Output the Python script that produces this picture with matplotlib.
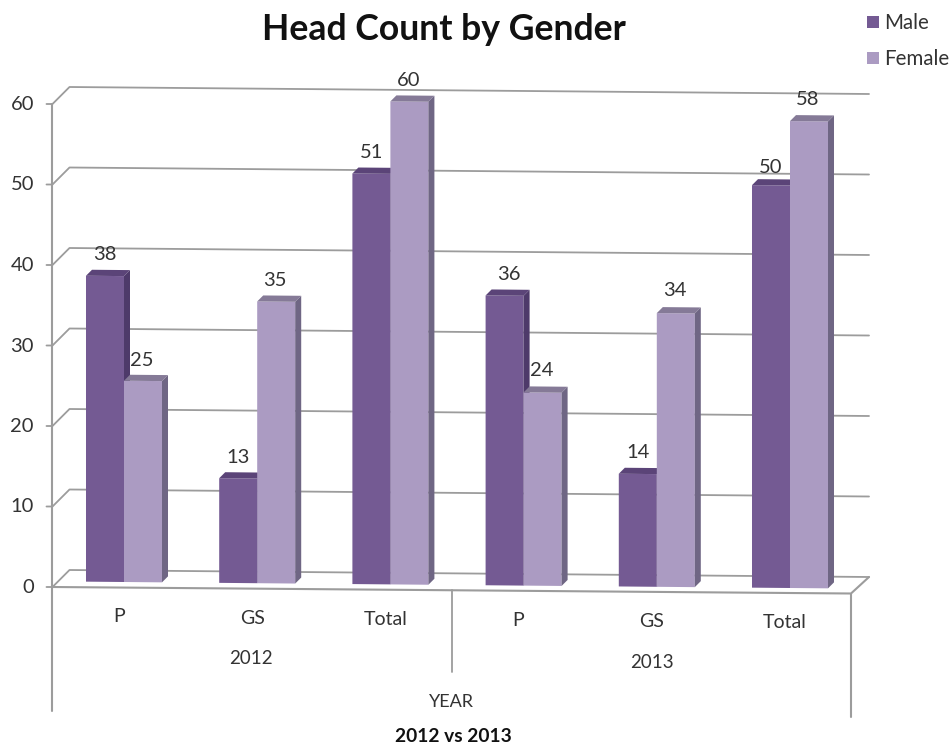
import matplotlib
matplotlib.use("Agg")
import matplotlib.pyplot as plt
from matplotlib.transforms import Affine2D

plt.rcParams['font.family'] = ['Lato', 'DejaVu Sans']

# values
groups = ["P", "GS", "Total", "P", "GS", "Total"]
years = ["2012", "2013"]
male = [38, 13, 51, 36, 14, 50]
female = [25, 35, 60, 24, 34, 58]
y_ticks = [0, 10, 20, 30, 40, 50, 60]

MALE = ("#745a93", "#4e3a6a", "#5b4478")
FEMALE = ("#ab9bc2", "#6f6684", "#857a97")
GRID = "#9c9c9c"
TEXT = "#333333"

fig = plt.figure(figsize=(9.49, 7.45), dpi=100)
ax = fig.add_axes([0, 0, 1, 1])
ax.set_xlim(0, 949)
ax.set_ylim(745, 0)
ax.axis("off")
ax.autoscale(False)

# slightly tilted view: (slot, value) -> picture pixels
PX_PER_UNIT = 8.05
bar_tf = Affine2D.from_values(133.2, 1.2, 0, -PX_PER_UNIT, 124, 582)
BAR_W = 0.2853
DEPTH = (6, -6)


def wall(x_frac, v, back):
    # point on front (back=False) or rear (back=True) edge of the floor
    if back:
        x0, x1, y0, y1 = 69.5, 869, 570, 577
    else:
        x0, x1, y0, y1 = 52.5, 851, 587, 593.5
    return x0 + (x1 - x0) * x_frac, y0 + (y1 - y0) * x_frac - PX_PER_UNIT * v


def line(pts, lw=1.3, z=1):
    ax.plot([p[0] for p in pts], [p[1] for p in pts], color=GRID, lw=lw, zorder=z,
            solid_capstyle="round", solid_joinstyle="round")


# gridlines, with the short return to the axis and tick
for v in y_ticks:
    fx, fy = wall(0, v, False)
    line([(fx - 6, fy), (fx, fy), wall(0, v, True), wall(1, v, True)])
    ax.text(34, fy + 0.5, str(v), ha="right", va="center", fontsize=14.5, color=TEXT)

# floor and frame
line([wall(0, 0, False), wall(1, 0, False), wall(1, 0, True)], lw=1.5, z=1)
line([wall(0, 60, False), (52.5, 711)], lw=1.5)
line([wall(1, 0, False), (851, 717)], lw=1.5)
line([(452, 590), (452, 672)], lw=1.3)


def bar3d(slot, v, width, colors):
    x0 = slot - width
    x1 = slot
    ax.bar([x0], [v], width=width, align="edge", color=colors[0], zorder=3,
           transform=bar_tf + ax.transData)
    a = bar_tf.transform((x0, v))
    b = bar_tf.transform((x1, v))
    c = bar_tf.transform((x1, 0))
    dx, dy = DEPTH
    ax.fill([a[0], b[0], b[0] + dx, a[0] + dx], [a[1], b[1], b[1] + dy, a[1] + dy],
            color=colors[2], lw=0, zorder=3)
    ax.fill([b[0], c[0], c[0] + dx, b[0] + dx], [b[1], c[1], c[1] + dy, b[1] + dy],
            color=colors[1], lw=0, zorder=3)


# male first, the female front face covers the male side
for i in range(len(groups)):
    bar3d(i, male[i], BAR_W, MALE)
    bar3d(i + BAR_W, female[i], BAR_W, FEMALE)

# value labels sit above each bar, hand-nudged like the original
male_nudge = [(0, -21), (0, -21), (0, -21), (4, -21), (0, -21), (0, -18)]
female_nudge = [(-1, -20), (-1, -21), (-1, -21), (-1, -22), (-1, -23), (-1, -22)]
for i in range(len(groups)):
    px, py = bar_tf.transform((i - BAR_W / 2, male[i]))
    ax.text(px + male_nudge[i][0], py + male_nudge[i][1], str(male[i]),
            ha="center", va="center", fontsize=14.5, color=TEXT, zorder=4)
    px, py = bar_tf.transform((i + BAR_W / 2, female[i]))
    ax.text(px + female_nudge[i][0], py + female_nudge[i][1], str(female[i]),
            ha="center", va="center", fontsize=14.5, color=TEXT, zorder=4)

# category labels below the floor
for i, name in enumerate(groups):
    px, py = bar_tf.transform((i, 0))
    ax.text(px - 5, py + 35, name, ha="center", va="center", fontsize=14, color=TEXT)
ax.text(251, 659, years[0], ha="center", va="center", fontsize=13.5, color=TEXT)
ax.text(652, 662, years[1], ha="center", va="center", fontsize=13.5, color=TEXT)
ax.text(451, 702, "YEAR", ha="center", va="center", fontsize=13, color=TEXT)
ax.text(453, 737, "2012 vs 2013", ha="center", va="center", fontsize=13.8,
        fontweight="bold", color="#111111")

ax.text(444, 30, "Head Count by Gender", ha="center", va="center", fontsize=25.7,
        fontweight="bold", color="#111111")

# legend
for y, name, col in [(22, "Male", MALE[0]), (58, "Female", FEMALE[0])]:
    ax.fill([867, 879, 879, 867], [y - 6, y - 6, y + 6, y + 6], color=col, lw=0)
    ax.text(884, y + 1, name, ha="left", va="center", fontsize=14.8, color=TEXT)

fig.savefig("out.png", dpi=100)
